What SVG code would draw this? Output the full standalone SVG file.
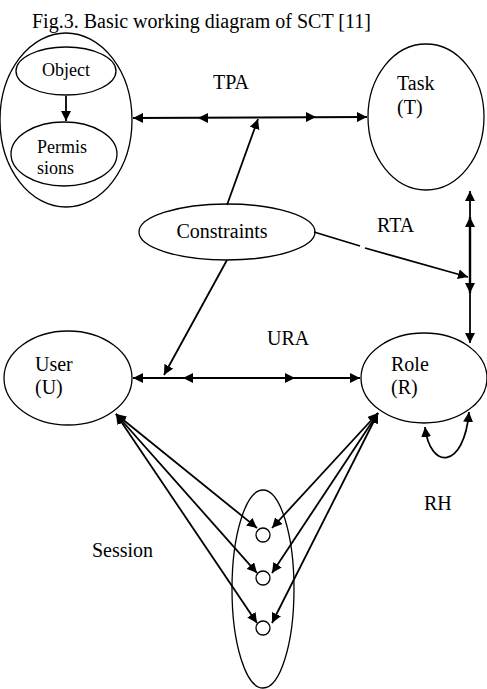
<svg xmlns="http://www.w3.org/2000/svg" width="487" height="689" viewBox="0 0 487 689">
<style>
.n{fill:none;stroke:#000;stroke-width:1.3}
.c{fill:none;stroke:#000;stroke-width:1.8}
.h{fill:#000;stroke:none}
text{font-family:"Liberation Serif","DejaVu Serif","Times New Roman",serif;font-size:20px;fill:#000}
.s{font-size:18px}
</style>
<defs>
<marker id="a" viewBox="0 0 10 10" refX="10" refY="5" markerWidth="10" markerHeight="10" markerUnits="userSpaceOnUse" orient="auto-start-reverse"><path d="M0,0 L10,5 L0,10 z" fill="#000"/></marker>
<path id="hr" d="M-5,-5 L5,0 L-5,5 z"/>
<path id="hl" d="M5,-5 L-5,0 L5,5 z"/>
</defs>
<rect width="487" height="689" fill="#fff"/>
<text x="32" y="28">Fig.3. Basic working diagram of SCT [11]</text>
<g id="objperm"><ellipse class="n" cx="66" cy="120" rx="66" ry="87"/></g>
<g id="object"><ellipse class="n" cx="66" cy="71" rx="50" ry="24"/><text class="s" x="66" y="76" text-anchor="middle">Object</text></g>
<g id="permissions"><ellipse class="n" cx="64" cy="154" rx="53" ry="32"/><text class="s" x="37" y="153">Permis</text><text class="s" x="37" y="174">sions</text></g>
<g id="task"><ellipse class="n" cx="426" cy="117" rx="58" ry="73"/><text x="397" y="90">Task</text><text x="397" y="114">(T)</text></g>
<g id="constraints"><ellipse class="n" cx="227" cy="232" rx="88" ry="28"/><text x="222" y="238" text-anchor="middle">Constraints</text></g>
<g id="user"><ellipse class="n" cx="68" cy="378" rx="64" ry="47"/><text x="35" y="371">User</text><text x="35" y="394">(U)</text></g>
<g id="role"><ellipse class="n" cx="424" cy="378" rx="63" ry="45"/><text x="391" y="371">Role</text><text x="391" y="394">(R)</text></g>
<g id="session"><ellipse class="n" cx="263" cy="589" rx="31" ry="99"/>
<circle class="n" cx="263" cy="535" r="7" fill="#fff"/><circle class="n" cx="263" cy="578" r="7" fill="#fff"/><circle class="n" cx="263" cy="628" r="7" fill="#fff"/></g>
<g id="labels">
<text x="213" y="89">TPA</text>
<text x="377" y="232">RTA</text>
<text x="267" y="345">URA</text>
<text x="424" y="510">RH</text>
<text x="92" y="557">Session</text>
</g>
<g id="connectors">
<path class="c" d="M66,96 L66,121" marker-end="url(#a)"/>
<path class="c" d="M133,118 L367,117" marker-start="url(#a)" marker-end="url(#a)" style="stroke-width:2"/>
<use href="#hl" class="h" x="203" y="118"/>
<use href="#hr" class="h" x="311" y="117"/>
<path class="c" d="M227,205 L258,119" marker-end="url(#a)"/>
<path class="c" d="M227,260 L164,375" marker-end="url(#a)"/>
<path class="c" d="M314,232 L360,246 M365,248 L468,277" marker-end="url(#a)"/>
<path class="c" d="M470,191 L470,217" marker-start="url(#a)"/>
<path class="c" d="M470,217 L470,293" style="stroke-width:2.4" marker-start="url(#a)" marker-end="url(#a)"/>
<path class="c" d="M470,293 L470,343" marker-end="url(#a)"/>
<path class="c" d="M133,378 L360,378" marker-start="url(#a)" marker-end="url(#a)"/>
<use href="#hl" class="h" x="188" y="378"/>
<use href="#hr" class="h" x="290" y="378"/>
<path class="c" d="M425,427 C430,470 464,470 469,412" marker-start="url(#a)" marker-end="url(#a)"/>
<path class="c" d="M116,414 L257,528" marker-start="url(#a)" marker-end="url(#a)"/>
<path class="c" d="M116,414 L257,573" marker-start="url(#a)" marker-end="url(#a)"/>
<path class="c" d="M116,414 L257,623" marker-start="url(#a)" marker-end="url(#a)"/>
<path class="c" d="M378,413 L272,528" marker-start="url(#a)" marker-end="url(#a)"/>
<path class="c" d="M378,413 L272,573" marker-start="url(#a)" marker-end="url(#a)"/>
<path class="c" d="M378,413 L272,623" marker-start="url(#a)" marker-end="url(#a)"/>
</g>
</svg>
